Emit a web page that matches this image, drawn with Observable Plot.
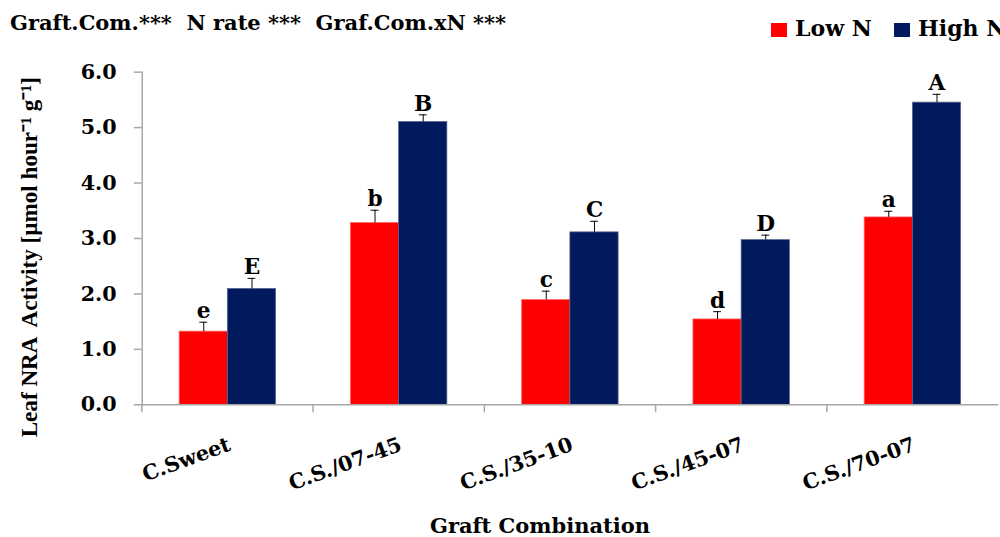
<!DOCTYPE html>
<html>
<head>
<meta charset="utf-8">
<script src="https://cdn.jsdelivr.net/npm/d3@7"></script>
<script src="https://cdn.jsdelivr.net/npm/@observablehq/plot@0.6"></script>
<style>
  html, body { margin: 0; padding: 0; background: #fff; width: 1000px; height: 537px; overflow: hidden; }
  #wrap { position: relative; width: 1000px; height: 537px; font-family: "DejaVu Serif", serif; font-weight: bold; color: #000; }
  #head { position: absolute; left: 0; top: 0; width: 1000px; height: 50px; }
  #title { position: absolute; left: 10px; top: 10px; font-size: 21px; line-height: 26px; white-space: pre; }
  #legend { position: absolute; left: 771px; top: 15px; font-size: 22px; line-height: 26px; white-space: nowrap; }
  .item { position: absolute; top: 0; white-space: nowrap; }
  .swatch { position: absolute; top: 8px; width: 16px; height: 14px; }
  .item span.lab { position: absolute; left: 24px; top: 0; }
  #chart { position: absolute; left: 0; top: 50px; }
  #xtitle { position: absolute; left: 0; top: 516px; width: 1080px; text-align: center; font-size: 21px; line-height: 20px; }
</style>
</head>
<body>
<div id="wrap">
  <div id="head">
    <div id="title"></div>
    <div id="legend"></div>
  </div>
  <div id="chart"></div>
  <div id="xtitle"></div>
</div>
<script>
// Leaf nitrate reductase activity by graft combination and N rate
const groups = ["C.Sweet", "C.S./07-45", "C.S./35-10", "C.S./45-07", "C.S./70-07"];
const levels = ["Low N", "High N"];
const lowN = [1.32, 3.28, 1.89, 1.54, 3.38];
const highN = [2.09, 5.10, 3.11, 2.97, 5.45];
const lowErr = [0.17, 0.23, 0.16, 0.14, 0.11];
const highErr = [0.19, 0.13, 0.20, 0.09, 0.15];
const lowLetters = ["e", "b", "c", "d", "a"];
const highLetters = ["E", "B", "C", "D", "A"];
const yTicks = [0, 1, 2, 3, 4, 5, 6];
const colors = ["#ff0000", "#011a5e"];
const edgeColors = ["#ff6a6a", "#56648f"];
const titleText = "Graft.Com.***  N rate ***  Graf.Com.xN ***";
const yTitle = "Leaf NRA  Activity [µmol hour⁻¹ g⁻¹]";
const xTitle = "Graft Combination";

const rows = groups.flatMap((g, i) => [
  {group: g, level: levels[0], value: lowN[i], err: lowErr[i], letter: lowLetters[i]},
  {group: g, level: levels[1], value: highN[i], err: highErr[i], letter: highLetters[i]}
]);

// header: statistics line and legend
document.getElementById("title").textContent = titleText;
const legend = document.getElementById("legend");
const legendOffsets = [0, 123];
levels.forEach((lv, i) => {
  const item = document.createElement("div");
  item.className = "item";
  item.style.left = legendOffsets[i] + "px";
  const sw = document.createElement("div");
  sw.className = "swatch";
  sw.style.background = colors[i];
  const lab = document.createElement("span");
  lab.className = "lab";
  lab.textContent = lv;
  item.append(sw, lab);
  legend.append(item);
});
document.getElementById("xtitle").textContent = xTitle;

const W = 1016, mL = 142, mR = 0;
const step = (W - mL - mR) / groups.length;
const gray = "#a6a6a6";
const edge = d3.scaleOrdinal(levels, edgeColors);

const chart = Plot.plot({
  width: W,
  height: 455,
  marginTop: 22,
  marginBottom: 95,
  marginLeft: mL,
  marginRight: mR,
  style: {fontFamily: "DejaVu Serif", fontWeight: "bold", fontSize: "21px", color: "#000", background: "transparent", overflow: "visible"},
  fx: {domain: groups, padding: 0, axis: null, label: null},
  x: {domain: levels, paddingInner: 0, paddingOuter: 0.766, axis: null},
  y: {domain: [0, 6], axis: null},
  color: {domain: levels, range: colors},
  marks: [
    Plot.frame({anchor: "left", facetAnchor: "left", stroke: gray, strokeWidth: 1.5}),
    Plot.axisY({ticks: yTicks, tickSize: 8, tickFormat: () => "", stroke: gray, strokeWidth: 1.5, label: null}),
    Plot.axisY({ticks: yTicks, tickSize: 0, tickPadding: 26, tickFormat: d3.format(".1f"), label: null, fontSize: 21, fill: "#000"}),
    Plot.axisFx({anchor: "bottom", tickSize: 8, tickFormat: () => "", dx: -step / 2, stroke: gray, strokeWidth: 1.5, label: null}),
    Plot.barY(rows, {fx: "group", x: "level", y: "value", fill: "level", stroke: d => edge(d.level), strokeWidth: 0.8}),
    Plot.ruleY([0], {stroke: gray, strokeWidth: 1.5}),
    Plot.ruleX(rows, {fx: "group", x: "level", y1: "value", y2: d => d.value + d.err, stroke: "#000", strokeWidth: 1}),
    Plot.tickY(rows, {fx: "group", x: "level", y: d => d.value + d.err, stroke: "#000", strokeWidth: 1, insetLeft: 20.5, insetRight: 20.5}),
    Plot.text(rows, {fx: "group", x: "level", y: d => d.value + d.err, text: "letter", dy: -4, lineAnchor: "bottom", fontSize: 22}),
    Plot.text(groups, {fx: d => d, text: d => d, frameAnchor: "bottom", rotate: -20, textAnchor: "end", dx: 4, dy: 46, fontSize: 21}),
    Plot.text([yTitle], {text: d => d, frameAnchor: "left", facetAnchor: "left", textAnchor: "middle", rotate: -90, dx: -114, dy: 19, fontFamily: "Liberation Serif", fontSize: 23.5})
  ]
});
document.getElementById("chart").append(chart);
</script>
</body>
</html>
